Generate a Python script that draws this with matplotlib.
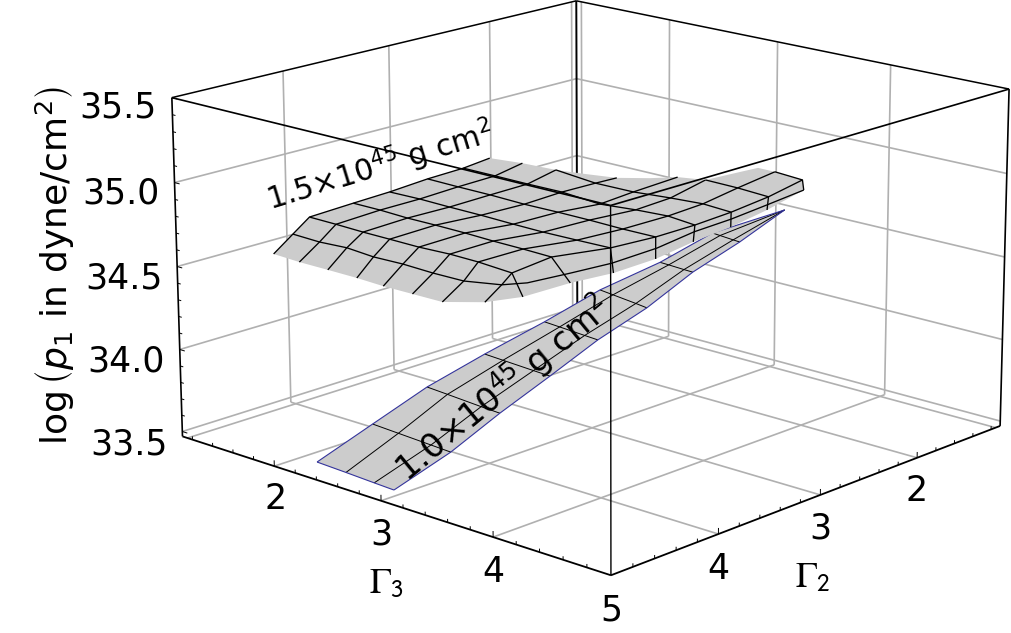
import numpy as np
import matplotlib
matplotlib.use("Agg")
import matplotlib.pyplot as plt
from mpl_toolkits.mplot3d import proj3d
from mpl_toolkits.mplot3d.art3d import Poly3DCollection

nan = np.nan

# box limits and ticks
gamma_min, gamma_max = 1.1, 5.0
logp_min, logp_max = 33.47, 35.5
gamma_ticks = [2, 3, 4]
gamma_grid = [1.15, 2, 3, 4]
gamma_minor = [1.2, 1.4, 1.6, 1.8, 2.2, 2.4, 2.6, 2.8, 3.2, 3.4, 3.6, 3.8, 4.2, 4.4, 4.6, 4.8]
logp_ticks = [33.5, 34.0, 34.5, 35.0, 35.5]
logp_minor = [33.6, 33.7, 33.8, 33.9, 34.1, 34.2, 34.3, 34.4, 34.6, 34.7, 34.8, 34.9, 35.1, 35.2, 35.3, 35.4]

# upper surface, I = 1.5e45: rows follow constant gamma3, columns constant gamma2
upper_g2 = [
    [4.09, 3.72, 3.39, 3.06, 2.79, 2.48, 2.21, 1.97, nan, nan],
    [4.18, 3.81, 3.47, 3.14, 2.87, 2.58, 2.31, 2.02, nan, nan],
    [4.26, 3.86, 3.56, 3.24, 2.97, 2.68, 2.42, 2.10, nan, nan],
    [4.34, 3.97, 3.64, 3.32, 3.07, 2.80, 2.52, 2.30, 2.17, nan],
    [4.43, 4.04, 3.73, 3.41, 3.18, 2.90, 2.69, 2.42, 2.07, nan],
    [4.51, 4.14, 3.80, 3.51, 3.28, 3.00, 2.75, 2.48, 2.09, nan],
    [4.59, 4.22, 3.89, 3.60, 3.37, 3.11, 2.82, 2.55, 2.21, 1.85],
    [4.53, 4.23, 4.02, 3.70, 3.46, 3.21, 2.95, 2.67, 2.34, 1.98],
    [nan, nan, 4.39, 4.10, 3.88, 3.59, 3.25, 2.94, 2.59, 2.17],
]
upper_g3 = [
    [1.06, 0.86, 0.68, 0.78, 0.87, 0.94, 1.03, 1.06, nan, nan],
    [1.41, 1.22, 1.03, 1.13, 1.25, 1.34, 1.44, 1.43, nan, nan],
    [1.77, 1.54, 1.39, 1.50, 1.64, 1.75, 1.86, 1.83, nan, nan],
    [2.13, 1.91, 1.73, 1.85, 2.04, 2.19, 2.28, 2.39, 2.47, nan],
    [2.47, 2.26, 2.10, 2.22, 2.45, 2.60, 2.79, 2.85, 2.94, nan],
    [2.82, 2.64, 2.46, 2.58, 2.82, 2.98, 3.17, 3.24, 3.21, nan],
    [3.17, 3.00, 2.81, 2.94, 3.21, 3.38, 3.52, 3.59, 3.60, 3.62],
    [3.49, 3.35, 3.24, 3.29, 3.59, 3.76, 3.87, 3.94, 3.98, 3.97],
    [nan, nan, 3.69, 3.83, 4.00, 4.10, 4.12, 4.17, 4.18, 4.14],
]
upper_logp = [
    [34.400, 34.421, 34.438, 34.483, 34.521, 34.561, 34.597, 34.625, nan, nan],
    [34.427, 34.449, 34.465, 34.511, 34.552, 34.592, 34.630, 34.659, nan, nan],
    [34.457, 34.477, 34.493, 34.540, 34.583, 34.625, 34.665, 34.693, nan, nan],
    [34.486, 34.505, 34.521, 34.569, 34.616, 34.660, 34.700, 34.734, 34.757, nan],
    [34.514, 34.535, 34.552, 34.599, 34.649, 34.696, 34.739, 34.775, 34.819, nan],
    [34.545, 34.566, 34.584, 34.629, 34.681, 34.729, 34.777, 34.812, 34.848, nan],
    [34.576, 34.597, 34.614, 34.659, 34.715, 34.762, 34.810, 34.846, 34.883, 34.921],
    [34.620, 34.638, 34.648, 34.690, 34.750, 34.797, 34.838, 34.875, 34.914, 34.950],
    [nan, nan, 34.659, 34.708, 34.753, 34.797, 34.836, 34.874, 34.913, 34.950],
]
# first row where each constant gamma2 column is drawn
upper_col_start = [nan, 0, 0, 0, 0, 0, 0, 2, 5, 6]

# second mesh line of the rim, running on past the last row
rim_g2 = [4.16, 3.94, 3.72, 3.40, 3.07, 2.80, 2.50, 2.17]
rim_g3 = [3.51, 3.68, 3.84, 3.94, 3.97, 4.05, 4.10, 4.14]
rim_logp = [34.664, 34.708, 34.752, 34.797, 34.837, 34.875, 34.913, 34.950]

# points of the far boundary that are not mesh nodes
far_g2 = [1.79, 1.89, 2.13, 2.14]
far_g3 = [3.42, 3.35, 2.74, 2.14]
far_logp = [34.903, 34.885, 34.791, 34.724]

# lower surface, I = 1.0e45
lower_g2 = [5.00, 4.51, 4.03, 3.54, 3.05, 2.56, 2.08, 1.59, 1.10]
lower_g3 = [
    [2.41, 2.43, 2.46, 2.52, 2.61, 2.67, 2.79, 2.84, 3.08],
    [2.68, 2.67, 2.65, 2.69, 2.75, 2.79, 2.87, 2.91, 3.08],
    [2.94, 2.97, 2.96, 2.97, 2.98, 3.00, 3.01, 3.03, 3.08],
    [3.12, 3.15, 3.13, 3.12, 3.10, 3.10, 3.09, 3.09, 3.08],
]
lower_logp = [
    [33.578, 33.703, 33.831, 33.942, 34.058, 34.170, 34.271, 34.372, 34.468],
    [33.571, 33.695, 33.823, 33.936, 34.052, 34.161, 34.269, 34.368, 34.468],
    [33.563, 33.685, 33.809, 33.926, 34.042, 34.145, 34.264, 34.361, 34.468],
    [33.558, 33.679, 33.803, 33.921, 34.037, 34.136, 34.262, 34.358, 34.468],
]

GRAY = "#b0b0b0"
SURF = "#cccccc"
BLUE = "#34349c"

W, H = 1012, 633
fig = plt.figure(figsize=(W / 100, H / 100), dpi=100)
ax = fig.add_axes([143.77 / W, -79.64 / H, 873.21 / W, 873.21 / H], projection="3d", computed_zorder=False)
ax.set_xlim(gamma_min, gamma_max)
ax.set_ylim(gamma_min, gamma_max)
ax.set_zlim(logp_min, logp_max)
ax.view_init(16.3502, 42.9099, 0.1302)
ax.set_proj_type("persp", focal_length=0.8875)
ax.set_box_aspect((1, 1.0071, 0.6035))
ax.set_axis_off()
ax.patch.set_alpha(0)
# the built-in axes stay unused, the box is drawn by hand below
for a in (ax.xaxis, ax.yaxis, ax.zaxis):
    a.set_visible(False)
for t in (ax.title, ax._left_title, ax._right_title):
    t.set_visible(False)


def line(x, y, z, color="k", lw=1.0, zorder=5):
    ax.plot(x, y, z, color=color, lw=lw, zorder=zorder, solid_capstyle="butt")


def label(x, y, z, s):
    px, py, _ = proj3d.proj_transform(x, y, z, ax.get_proj())
    ax.text2D(px, py, s, transform=ax.transData, fontsize=25, ha="center", va="center", zorder=6)


# back walls and floor grid
for g in gamma_grid:
    line([g, g], [gamma_min, gamma_min], [logp_min, logp_max], GRAY, 1.2, 1)
    line([gamma_min, gamma_min], [g, g], [logp_min, logp_max], GRAY, 1.2, 1)
    line([g, g], [gamma_min, gamma_max], [logp_min, logp_min], GRAY, 1.2, 1)
    line([gamma_min, gamma_max], [g, g], [logp_min, logp_min], GRAY, 1.2, 1)
for p in logp_ticks[:-1]:
    line([gamma_min, gamma_max], [gamma_min, gamma_min], [p, p], GRAY, 1.2, 1)
    line([gamma_min, gamma_min], [gamma_min, gamma_max], [p, p], GRAY, 1.2, 1)

# back edges of the box
line([gamma_min, gamma_min], [gamma_min, gamma_min], [logp_min, logp_max], "k", 1.4, 2)
line([gamma_max, gamma_min], [gamma_min, gamma_min], [logp_max, logp_max], "k", 1.1, 2)
line([gamma_min, gamma_min], [gamma_min, gamma_max], [logp_max, logp_max], "k", 1.1, 2)

# lower surface
lg3 = np.array(lower_g3)
lp = np.array(lower_logp)
lg2 = np.array(lower_g2)
verts = list(zip(lg2, lg3[0], lp[0])) + list(zip(lg2[::-1], lg3[3][::-1], lp[3][::-1]))
ax.add_collection3d(Poly3DCollection([verts], facecolor=SURF, edgecolor="none", linewidths=0, zorder=3))
for k in range(1, 8):
    line([lg2[k]] * 4, lg3[:, k], lp[:, k], "k", 0.7, 3.5)
for r in (1, 2):
    line(lg2, lg3[r], lp[r], "k", 0.7, 3.5)
line(lg2, lg3[0], lp[0], BLUE, 0.8, 3.6)
line(lg2, lg3[3], lp[3], BLUE, 0.8, 3.6)
line([lg2[0]] * 4, lg3[:, 0], lp[:, 0], BLUE, 0.8, 3.6)

# upper surface
ug2 = np.array(upper_g2)
ug3 = np.array(upper_g3)
up = np.array(upper_logp)
nodes = [(i, 0) for i in range(8)]
nodes += [(8, j) for j in range(2, 10)] + [(7, 9), (6, 9)]
outline = [(ug2[i, j], ug3[i, j], up[i, j]) for i, j in nodes]
outline += [(far_g2[0], far_g3[0], far_logp[0]), (far_g2[1], far_g3[1], far_logp[1])]
outline += [(ug2[5, 8], ug3[5, 8], up[5, 8]), (ug2[4, 8], ug3[4, 8], up[4, 8])]
outline += [(far_g2[2], far_g3[2], far_logp[2]), (ug2[3, 8], ug3[3, 8], up[3, 8])]
outline += [(far_g2[3], far_g3[3], far_logp[3])]
outline += [(ug2[i, 7], ug3[i, 7], up[i, 7]) for i in (2, 1, 0)]
outline += [(ug2[0, j], ug3[0, j], up[0, j]) for j in range(6, 0, -1)]
ax.add_collection3d(Poly3DCollection([outline], facecolor=SURF, edgecolor="none", linewidths=0, zorder=4))

for i in range(8):
    keep = ~np.isnan(ug2[i])
    line(ug2[i][keep], ug3[i][keep], up[i][keep], "k", 0.95, 4.5)
for j in range(2, 10):
    rows = [i for i in range(int(upper_col_start[j]), 9) if not np.isnan(ug2[i, j])]
    line(ug2[rows, j], ug3[rows, j], up[rows, j], "k", 0.95, 4.5)
line(list(ug2[:8, 1]) + rim_g2, list(ug3[:8, 1]) + rim_g3, list(up[:8, 1]) + rim_logp, "k", 0.95, 4.5)

# front edges of the box
line([gamma_max, gamma_max], [gamma_min, gamma_max], [logp_max, logp_max], "k", 1.2)
line([gamma_min, gamma_max], [gamma_max, gamma_max], [logp_max, logp_max], "k", 1.2)
line([gamma_max, gamma_max], [gamma_max, gamma_max], [logp_min, logp_max], "k", 1.0)
line([gamma_max, gamma_max], [gamma_min, gamma_max], [logp_min, logp_min], "k", 1.3)
line([gamma_min, gamma_max], [gamma_max, gamma_max], [logp_min, logp_min], "k", 1.3)
line([gamma_max, gamma_max], [gamma_min, gamma_min], [logp_min, logp_max], "k", 1.2)
line([gamma_min, gamma_min], [gamma_max, gamma_max], [logp_min, logp_max], "k", 1.2)

# tick marks
for g, size in [(t, 0.035) for t in gamma_ticks] + [(t, 0.02) for t in gamma_minor]:
    line([gamma_max, gamma_max], [g, g], [logp_min, logp_min + size], "k", 0.7)
    line([g, g], [gamma_max, gamma_max], [logp_min, logp_min + size], "k", 0.7)
for p, size in [(t, 0.05) for t in logp_ticks] + [(t, 0.03) for t in logp_minor]:
    line([gamma_max, gamma_max], [gamma_min, gamma_min + size], [p, p], "k", 0.7)

# tick labels
for g in gamma_ticks + [5]:
    label(gamma_max, g, logp_min - 0.2, str(g))
for g in gamma_ticks:
    label(g, gamma_max, logp_min - 0.2, str(g))
for p in logp_ticks:
    label(5.47, gamma_min, p + 0.02, "%.1f" % p)

# axis titles and surface labels
fig.text(54 / W, 1 - 266 / H, r"log$\,\left(p_1\ \mathrm{in\ dyne/cm^2}\right)$", fontsize=26,
         rotation=90, ha="center", va="center", math_fontfamily="dejavusans")
fig.text(386 / W, 1 - 583 / H, r"$\Gamma_{\mathsf{3}}$", fontsize=26, ha="center", va="center", math_fontfamily="stix")
fig.text(813 / W, 1 - 577 / H, r"$\Gamma_{\mathsf{2}}$", fontsize=26, ha="center", va="center", math_fontfamily="stix")
fig.text(380 / W, 1 - 166 / H, "1.5×10$^{45}$ g cm$^{2}$", fontsize=21.5, rotation=17,
         ha="center", va="center", rotation_mode="anchor")
fig.text(503 / W, 1 - 388 / H, "1.0×10$^{45}$ g cm$^{2}$", fontsize=24.5, rotation=39.5,
         ha="center", va="center", rotation_mode="anchor")

fig.savefig("out.png", dpi=100)
